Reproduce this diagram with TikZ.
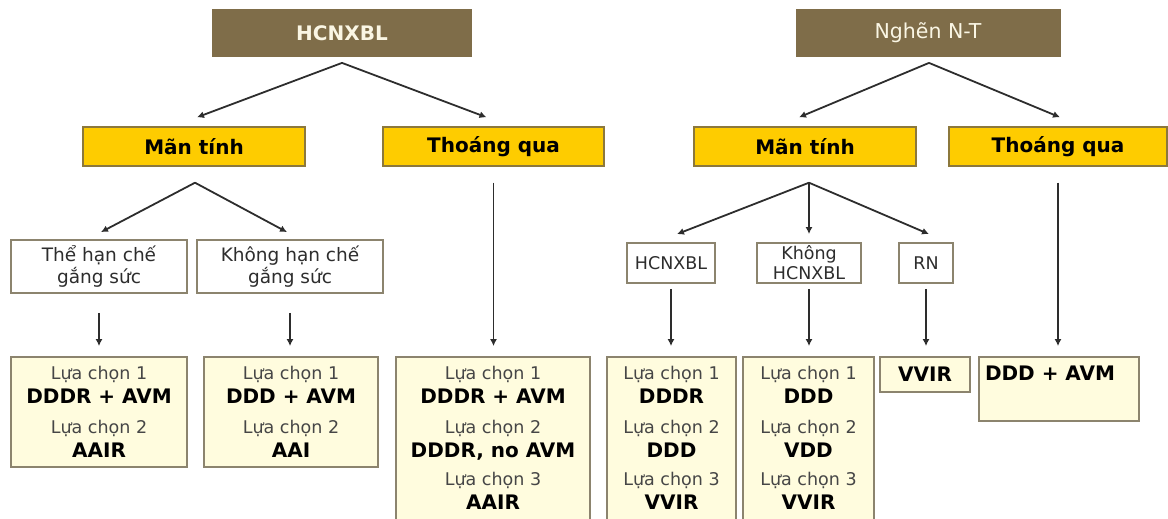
\documentclass[tikz,border=0pt]{standalone}
\usepackage{fontspec}
\setmainfont{DejaVu Sans}
\usetikzlibrary{arrows,arrows.meta,calc}

\definecolor{topbrown}{RGB}{127,109,73}
\definecolor{toptext}{RGB}{250,246,228}
\definecolor{gold}{RGB}{254,204,0}
\definecolor{goldline}{RGB}{140,120,60}
\definecolor{boxline}{RGB}{140,132,110}
\definecolor{cream}{RGB}{255,252,222}
\definecolor{ink}{RGB}{45,45,45}
\definecolor{lcgray}{RGB}{70,70,70}

\newcommand{\optlbl}{\fontsize{17.5}{24}\selectfont\color{lcgray}}
\newcommand{\optval}{\fontsize{20}{24}\selectfont\bfseries\color{black}}

\begin{document}
\begin{tikzpicture}[x=1pt, y=-1pt, >={Latex[length=7pt,width=7pt]}, line width=1.8pt,
    every node/.style={inner sep=0pt},
    topbox/.style={rectangle, fill=topbrown, text=toptext, minimum height=48pt},
    typebox/.style={rectangle, draw=goldline, fill=gold, line width=1.4pt, minimum height=39pt,
                    font=\fontsize{20}{22}\selectfont\bfseries},
    subbox/.style={rectangle, draw=boxline, fill=white, line width=1.8pt, text=ink, align=center},
    optbox/.style={rectangle, draw=boxline, fill=cream, line width=1.8pt},
    opttext/.style={anchor=north, align=center, font=\fontsize{17.5}{24}\selectfont}]
  \useasboundingbox (0,0) rectangle (1168,519);
  \clip (0,0) rectangle (1168,519);

  % top row
  \node[topbox, minimum width=260pt, font=\fontsize{20}{22}\selectfont\bfseries] (hc) at (342,33) {HCNXBL};
  \node[topbox, minimum width=265pt, font=\fontsize{20.5}{22}\selectfont] (nt) at (928,33) {Nghẽn N-T};

  \node[typebox, minimum width=222pt] (mt1) at (194,146.5) {Mãn tính};
  \node[typebox, minimum width=221pt] (tq1) at (493.5,146.5) {Thoáng qua};
  \node[typebox, minimum width=222pt] (mt2) at (805,146.5) {Mãn tính};
  \node[typebox, minimum width=218pt] (tq2) at (1058,146.5) {Thoáng qua};

  % middle row
  \node[subbox, minimum width=176pt, minimum height=53pt, font=\fontsize{18.5}{22}\selectfont] (thc) at (99,266.5) {Thể hạn chế\\gắng sức};
  \node[subbox, minimum width=186pt, minimum height=53pt, font=\fontsize{18.5}{22}\selectfont] (khc) at (290,266.5) {\raisebox{-3pt}{Không hạn chế}\\\raisebox{-3pt}{gắng sức}};
  \node[subbox, minimum width=88pt, minimum height=40pt, font=\fontsize{17.5}{20}\selectfont] (hcx) at (671,263) {HCNXBL};
  \node[subbox, minimum width=104pt, minimum height=40pt, font=\fontsize{17.5}{20}\selectfont] (khx) at (809,263) {Không\\HCNXBL};
  \node[subbox, minimum width=54pt, minimum height=40pt, font=\fontsize{17.5}{20}\selectfont] (rn) at (926,263) {RN};

  % option boxes
  \node[optbox, minimum width=176pt, minimum height=110pt] (b1) at (99,412) {};
  \node[optbox, minimum width=174pt, minimum height=110pt] (b2) at (291,412) {};
  \node[optbox, minimum width=194pt, minimum height=173pt] (b3) at (493,443.5) {};
  \node[optbox, minimum width=129pt, minimum height=173pt] (b4) at (671.5,443.5) {};
  \node[optbox, minimum width=131pt, minimum height=173pt] (b5) at (808.5,443.5) {};
  \node[optbox, minimum width=90pt, minimum height=35pt, font=\optval] (b6) at (925,374.5) {VVIR};
  \node[optbox, minimum width=160pt, minimum height=64pt] (b7) at (1059,389) {};

  \node[opttext] (b1txt) at ($(b1.north)+(0,9)$) {{\optlbl Lựa chọn 1}\\{\optval DDDR + AVM}\\[6pt]{\optlbl Lựa chọn 2}\\{\optval AAIR}};
  \node[opttext] (b2txt) at ($(b2.north)+(0,9)$) {{\optlbl Lựa chọn 1}\\{\optval DDD + AVM}\\[6pt]{\optlbl Lựa chọn 2}\\{\optval AAI}};
  \node[opttext] (b3txt) at ($(b3.north)+(0,9)$) {{\optlbl Lựa chọn 1}\\{\optval DDDR + AVM}\\[6pt]{\optlbl Lựa chọn 2}\\{\optval DDDR, no AVM}\\[4pt]{\optlbl Lựa chọn 3}\\{\optval AAIR}};
  \node[opttext] (b4txt) at ($(b4.north)+(0,9)$) {{\optlbl Lựa chọn 1}\\{\optval DDDR}\\[6pt]{\optlbl Lựa chọn 2}\\{\optval DDD}\\[4pt]{\optlbl Lựa chọn 3}\\{\optval VVIR}};
  \node[opttext] (b5txt) at ($(b5.north)+(0,9)$) {{\optlbl Lựa chọn 1}\\{\optval DDD}\\[6pt]{\optlbl Lựa chọn 2}\\{\optval VDD}\\[4pt]{\optlbl Lựa chọn 3}\\{\optval VVIR}};
  \node[anchor=north, font=\optval] (b7txt) at ($(b7.north)+(-9,9)$) {DDD + AVM};

  % connectors
  \begin{scope}[draw=ink]
    \draw[->] ($(hc.south)+(0,5)$) -- ($(mt1.north)+(3,-9)$);
    \draw[->] ($(hc.south)+(0,5)$) -- ($(tq1.north)+(-7,-9)$);
    \draw[->] ($(nt.south)+(1,5)$) -- ($(mt2.north)+(-6,-9)$);
    \draw[->] ($(nt.south)+(1,5)$) -- ($(tq2.north)+(2,-9)$);

    \draw[->] ($(mt1.south)+(1,16)$) -- ($(thc.north)+(2,-7)$);
    \draw[->] ($(mt1.south)+(1,16)$) -- ($(khc.north)+(-3,-7)$);
    \draw[->] ($(mt2.south)+(4,16)$) -- ($(hcx.north)+(6,-8)$);
    \draw[->] ($(mt2.south)+(4,16)$) -- ($(khx.north)+(0,-8)$);
    \draw[->] ($(mt2.south)+(4,16)$) -- ($(rn.north)+(3,-8)$);

    \draw[->, shorten <=19pt, shorten >=10pt] (thc.south) -- (thc.south |- b1.north);
    \draw[->, shorten <=19pt, shorten >=10pt] (khc.south) -- (khc.south |- b2.north);
    \draw[->, shorten <=16pt, shorten >=10pt] (tq1.south) -- (tq1.south |- b3.north);
    \draw[->, shorten <=5pt, shorten >=10pt] (hcx.south) -- (hcx.south |- b4.north);
    \draw[->, shorten <=5pt, shorten >=10pt] (khx.south) -- (khx.south |- b5.north);
    \draw[->, shorten <=5pt, shorten >=10pt] (rn.south) -- (rn.south |- b6.north);
    \draw[->, shorten <=16pt, shorten >=10pt] (tq2.south) -- (tq2.south |- b7.north);
  \end{scope}
\end{tikzpicture}
\end{document}
